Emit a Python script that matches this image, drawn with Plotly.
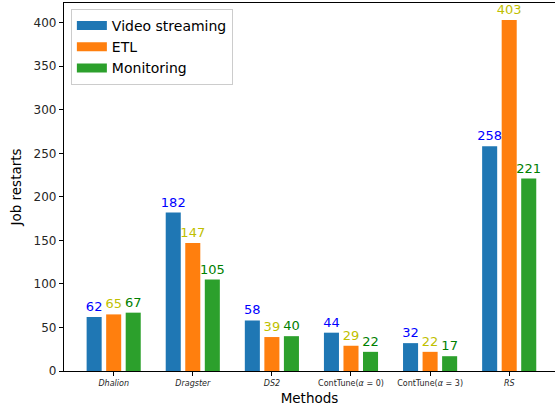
import plotly.graph_objects as go

methods = ["Dhalion", "Dragster", "DS2", "ContTune(α = 0)", "ContTune(α = 3)", "RS"]
tick_labels = ["<i>Dhalion</i>", "<i>Dragster</i>", "<i>DS2</i>",
               "ContTune(<i>α</i> = 0)", "ContTune(<i>α</i> = 3)", "<i>RS</i>"]
video = [62, 182, 58, 44, 32, 258]
etl = [65, 147, 39, 29, 22, 403]
monitoring = [67, 105, 40, 22, 17, 221]

series = [
    ("Video streaming", video, "#1f77b4", "#0000ff"),
    ("ETL", etl, "#ff7f0e", "#bfbf00"),
    ("Monitoring", monitoring, "#2ca02c", "#008000"),
]

xs = list(range(len(methods)))
fig = go.Figure()
for name, vals, color, tcolor in series:
    fig.add_trace(go.Bar(
        x=xs, y=vals, name=name, marker=dict(color=color, line=dict(width=0)),
        text=[str(v) for v in vals], textposition="outside",
        textfont=dict(color=tcolor, size=13, family="DejaVu Sans"),
        constraintext="none", cliponaxis=False, showlegend=False,
    ))
# legend entries drawn as wide patches (matplotlib-style)
for name, vals, color, tcolor in series:
    fig.add_trace(go.Scatter(
        x=[None], y=[None], mode="lines", name=name,
        line=dict(color=color, width=9),
    ))

fig.update_layout(
    width=555, height=412,
    margin=dict(l=64, r=0, t=3, b=41, autoexpand=False),
    barmode="group", bargap=0.259, bargroupgap=0.23,
    plot_bgcolor="white", paper_bgcolor="white",
    font=dict(family="DejaVu Sans", color="#262626"),
    showlegend=True,
    legend=dict(
        x=0.014, y=0.984, xanchor="left", yanchor="top",
        bgcolor="rgba(255,255,255,0.8)", bordercolor="#cccccc", borderwidth=1,
        font=dict(size=14, color="#000000"), itemwidth=30,
        tracegroupgap=0,
    ),
    uniformtext=dict(mode=False),
)
fig.update_xaxes(
    automargin=False,
    range=[-0.628, 5.579], tickvals=xs, ticktext=tick_labels,
    tickfont=dict(size=8, color="#262626"),
    ticks="outside", ticklen=4, tickwidth=1, tickcolor="black",
    showline=True, linecolor="black", linewidth=1.2, mirror=True,
    showgrid=False, zeroline=False,
    title=dict(text="Methods", font=dict(size=13.5, color="#000000"), standoff=6),
)
fig.update_yaxes(
    automargin=False,
    range=[0, 422.6], tickvals=[0, 50, 100, 150, 200, 250, 300, 350, 400],
    tickfont=dict(size=12, color="#262626"),
    ticks="outside", ticklen=4, tickwidth=1, tickcolor="black",
    showline=True, linecolor="black", linewidth=1.2,
    showgrid=False, zeroline=False,
    title=dict(text="Job restarts", font=dict(size=13.5, color="#000000"), standoff=8),
)

fig.write_html("out.html", config={"displayModeBar": False},
               post_script="document.body.style.margin='0';")
